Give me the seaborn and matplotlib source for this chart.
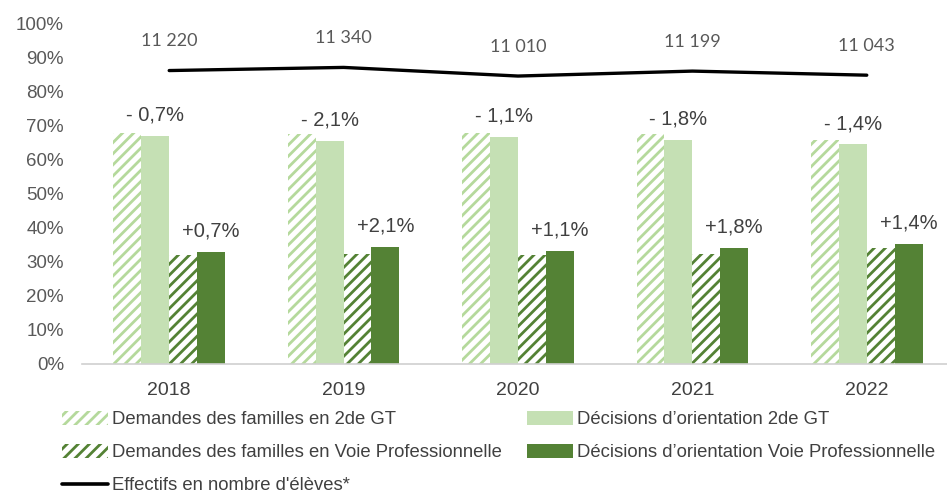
import numpy as np
import pandas as pd
import matplotlib
matplotlib.use("Agg")
import matplotlib.pyplot as plt
import seaborn as sns
from matplotlib import font_manager
from matplotlib.patches import Patch
from matplotlib.lines import Line2D

# ---- data ----
years = ["2018", "2019", "2020", "2021", "2022"]
dem_gt = [67.8, 67.6, 67.8, 67.7, 66.0]
dec_gt = [67.1, 65.5, 66.7, 65.9, 64.6]
dem_pro = [32.2, 32.4, 32.2, 32.3, 34.0]
dec_pro = [32.9, 34.5, 33.3, 34.1, 35.4]
gt_labels = ["- 0,7%", "- 2,1%", "- 1,1%", "- 1,8%", "- 1,4%"]
pro_labels = ["+0,7%", "+2,1%", "+1,1%", "+1,8%", "+1,4%"]
effectifs = [11220, 11340, 11010, 11199, 11043]
effectifs_labels = ["11 220", "11 340", "11 010", "11 199", "11 043"]
series = ["Demandes des familles en 2de GT",
          "Décisions d\u2019orientation 2de GT",
          "Demandes des familles en Voie Professionnelle",
          "Décisions d\u2019orientation Voie Professionnelle"]
line_label = "Effectifs en nombre d'élèves*"

# ---- fonts ----
def has_font(name):
    try:
        font_manager.findfont(font_manager.FontProperties(family=name), fallback_to_default=False)
        return True
    except Exception:
        return False

sns.set_theme(style="white")
base_font = "Liberation Sans" if has_font("Liberation Sans") else "DejaVu Sans"
narrow = has_font("Liberation Sans Narrow")
legend_font = "Liberation Sans Narrow" if narrow else base_font
legend_size = 15.5 if narrow else 13.3
num_font = "Lato" if has_font("Lato") else base_font
plt.rcParams["font.family"] = [base_font, "DejaVu Sans"]
plt.rcParams["hatch.linewidth"] = 2.0

light = "#C5E0B4"
light_hatch = "#B5D99C"
dark = "#548235"
txt = "#404040"

df = pd.DataFrame({
    "year": np.repeat(years, 4),
    "serie": series * len(years),
    "value": np.array([dem_gt, dec_gt, dem_pro, dec_pro]).T.ravel() / 100.0,
})

W, H = 947, 493
fig = plt.figure(figsize=(W / 100, H / 100), dpi=100)
left, right = 82 / W, 1.0
bottom, top = (H - 364) / H, (H - 24) / H
ax = fig.add_axes([left, bottom, right - left, top - bottom])

sns.barplot(data=df, x="year", y="value", hue="serie", order=years, hue_order=series,
            palette=[light, light, dark, dark], width=0.64, gap=0, saturation=1,
            legend=False, ax=ax, errorbar=None)

hatch_cols = {0: light_hatch, 2: dark}
for i, cont in enumerate(ax.containers):
    for p in cont.patches:
        p.set_linewidth(0)
        if i in hatch_cols:
            p.set_facecolor("white")
            p.set_edgecolor(hatch_cols[i])
            p.set_hatch("///")

ax.set_ylim(0, 1.0)
ax.set_xlim(-0.5, 4.46)
ax.set_yticks(np.arange(0, 1.01, 0.1))
ax.set_yticklabels([f"{int(round(v*100))}%" for v in np.arange(0, 1.01, 0.1)],
                   color="#595959", fontsize=13.5)
ax.tick_params(axis="x", labelsize=14, colors=txt, length=0, pad=13)
ax.tick_params(axis="y", length=0, pad=13)
ax.set_xlabel("")
ax.set_ylabel("")
for s in ["top", "right", "left"]:
    ax.spines[s].set_visible(False)
ax.spines["bottom"].set_color("#D0D0D0")
ax.spines["bottom"].set_linewidth(1.2)

# difference labels above decision bars
for cont_idx, labels in [(1, gt_labels), (3, pro_labels)]:
    cont = ax.containers[cont_idx]
    for p, lab in zip(cont.patches, labels):
        x = p.get_x() + p.get_width() / 2
        ax.annotate(lab, (x, p.get_height()), xytext=(0, 15), textcoords="offset points",
                    ha="center", va="center", fontsize=14.5, color=txt)

# secondary axis: effectifs
ax2 = ax.twinx()
sns.lineplot(x=np.arange(len(years)), y=effectifs, ax=ax2, color="black", linewidth=2.4,
             sort=False, legend=False)
ax2.set_ylim(0, 13000)
ax2.set_xlim(ax.get_xlim())
ax2.axis("off")
for x, v, lab in zip(range(len(years)), effectifs, effectifs_labels):
    ax2.annotate(lab, (x, v), xytext=(0, 21), textcoords="offset points",
                 ha="center", va="center", fontsize=13, color="#595959",
                 family=[num_font, "DejaVu Sans"])

# legend (two columns placed manually)
hd_gt = Patch(facecolor="white", edgecolor=light_hatch, hatch="///", linewidth=0)
hd_pro = Patch(facecolor="white", edgecolor=dark, hatch="///", linewidth=0)
hc_gt = Patch(facecolor=light, linewidth=0)
hc_pro = Patch(facecolor=dark, linewidth=0)
hl = Line2D([], [], color="black", linewidth=2.6)
lp = dict(frameon=False, borderpad=0, borderaxespad=0, handlelength=2.5, handleheight=0.75,
          handletextpad=0.2, labelspacing=0.86,
          prop=dict(family=[legend_font, "DejaVu Sans"], size=legend_size),
          labelcolor=txt)
leg1 = fig.legend([hd_gt, hd_pro, hl], [series[0], series[2], line_label],
                  loc="upper left", bbox_to_anchor=(62 / W, (H - 411) / H), **lp)
leg2 = fig.legend([hc_gt, hc_pro], [series[1], series[3]],
                  loc="upper left", bbox_to_anchor=(527 / W, (H - 411) / H), **lp)

fig.savefig("out.png", dpi=100)
